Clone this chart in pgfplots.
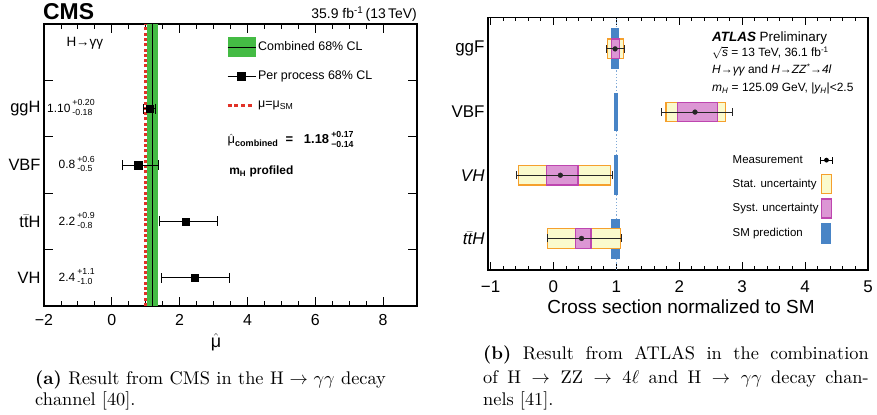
\documentclass[border=0pt]{standalone}
\usepackage{pgfplots}
\pgfplotsset{compat=1.18}
\usepackage{fontspec}
\usepackage{graphicx}
\newfontfamily\hv{Liberation Sans}
\definecolor{cmsgreen}{RGB}{68,187,68}
\definecolor{cmsred}{RGB}{225,50,40}
\definecolor{smblue}{RGB}{72,132,198}
\definecolor{statfill}{RGB}{250,250,205}
\definecolor{statline}{RGB}{245,160,45}
\definecolor{systfill}{RGB}{220,150,212}
\definecolor{systline}{RGB}{190,70,175}
\newcommand\fs[1]{\fontsize{#1}{#1}\selectfont}
\newcommand\ud[2]{\,\raisebox{1.5bp}{\fontsize{8.8}{10}\selectfont\begin{tabular}[c]{@{}l@{}}#1\\#2\end{tabular}}}
\newcommand\tbar{\ensuremath{\bar{\hbox{t}}}}
\newcommand\capt[1]{\scalebox{1.84}{\fontsize{10}{12}\selectfont #1}}

\begin{document}
\begin{tikzpicture}
\path[use as bounding box] (0,0) rectangle (877bp,415bp);

% ---------- (a) CMS ----------
\begin{axis}[
  at={(44bp,109bp)}, anchor=south west,
  scale only axis, width=373bp, height=282bp,
  xmin=-2, xmax=9, ymin=0, ymax=5,
  xtick={-2,0,2,4,6,8}, xticklabels={−2,0,2,4,6,8},
  minor x tick num=3,
  ytick={1,2,3,4}, yticklabels={},
  extra y ticks={0.5,1.5,2.5,3.5},
  extra y tick labels={VH,t\tbar H,VBF,ggH},
  extra y tick style={tick style={draw=none}},
  major tick length=9bp, minor tick length=4.5bp,
  tick style={black, line width=0.9bp},
  axis line style={line width=1.3bp},
  ticklabel style={font=\hv\fs{16}},
  xticklabel style={yshift=-5bp},
  yticklabel style={font=\hv\fs{16.5}},
  xlabel={$\hat{\hbox{μ}}$},
  xlabel style={font=\hv\fs{18}, at={(ticklabel cs:0.461)}, anchor=north, inner sep=1bp, yshift=-3bp},
  legend style={at={(0.48,0.961)}, anchor=north west, draw=none, fill=none,
    font=\hv\fs{12.5}, row sep=9bp, nodes={inner sep=2bp}},
  legend cell align=left,
  clip=false,
]
\addplot[forget plot, fill=cmsgreen, draw=none] coordinates {(1.04,0) (1.37,0) (1.37,5) (1.04,5)} -- cycle;
\addplot[forget plot, black, line width=1bp] coordinates {(1.19,0) (1.19,5)};
\addplot[forget plot, cmsred, line width=2.8bp, dash pattern=on 3bp off 2.3bp] coordinates {(1,0) (1,5)};
\addplot[forget plot, black, only marks, mark=square*, mark size=3.7bp,
  error bars/.cd, x dir=both, x explicit, error mark=|,
  error bar style={line width=1bp}, error mark options={mark size=5bp, line width=1bp}]
  coordinates {
  (1.12,3.5) += (0.18,0) -= (0.19,0)
  (0.78,2.5) += (0.61,0) -= (0.46,0)
  (2.18,1.5) += (0.93,0) -= (0.76,0)
  (2.45,0.5) += (1.03,0) -= (0.98,0)
  };

\addlegendimage{legend image code/.code={\fill[cmsgreen,draw=none] (0bp,-10bp) rectangle (28bp,10bp); \draw[black,line width=1bp] (0bp,0bp)--(28bp,0bp);}}
\addlegendentry{Combined 68\% CL}
\addlegendimage{legend image code/.code={\path[draw=none,fill=none] (0bp,-10bp) rectangle (28bp,10bp); \draw[black,line width=1bp] (0bp,0bp)--(28bp,0bp) plot[mark=square*,mark size=4bp] coordinates {(14bp,0bp)};}}
\addlegendentry{Per process 68\% CL}
\addlegendimage{legend image code/.code={\path[draw=none,fill=none] (0bp,-10bp) rectangle (28bp,10bp); \draw[cmsred,line width=2.8bp,dash pattern=on 4bp off 2.7bp] (0bp,0bp)--(24bp,0bp);}}
\addlegendentry{μ=μ\textsubscript{SM}}

\node[anchor=west, font=\hv\fs{13.5}] at (axis cs:-1.44,4.66) {H→γγ};
\node[anchor=east, font=\hv\fs{12}, inner sep=0] at (axis cs:-0.5,3.5) {1.10\ud{+0.20}{-0.18}};
\node[anchor=east, font=\hv\fs{12}, inner sep=0] at (axis cs:-0.5,2.5) {0.8\ud{+0.6}{-0.5}};
\node[anchor=east, font=\hv\fs{12}, inner sep=0] at (axis cs:-0.5,1.5) {2.2\ud{+0.9}{-0.8}};
\node[anchor=east, font=\hv\fs{12}, inner sep=0] at (axis cs:-0.5,0.5) {2.4\ud{+1.1}{-1.0}};
\node[anchor=west, font=\hv\fs{13}, inner sep=0] at (axis cs:3.41,2.94)
  {$\hat{\hbox{μ}}$\textsubscript{\textbf{combined}}\ \ \textbf{=}\ \ \ \textbf{1.18}\ud{\textbf{+0.17}}{\textbf{−0.14}}};
\node[anchor=west, font=\hv\bfseries\fs{12}, inner sep=0] at (axis cs:3.46,2.38) {m\textsubscript{H} profiled};
\end{axis}

\node[anchor=base west, font=\hv\bfseries\fs{23}, inner sep=0] at (43bp,395bp) {CMS};
\node[anchor=base east, font=\hv\fs{14}, inner sep=0] at (417bp,396bp) {35.9 fb\textsuperscript{-1}\,(13\,TeV)};

% ---------- (b) ATLAS ----------
\begin{axis}[
  at={(488bp,145bp)}, anchor=south west,
  scale only axis, width=380bp, height=252.7bp,
  xmin=-1.04, xmax=5, ymin=0, ymax=4,
  xtick={-1,0,1,2,3,4,5}, xticklabels={−1,0,1,2,3,4,5},
  minor x tick num=4,
  ytick={0.5,1.5,2.5,3.5},
  yticklabels={{\itshape t\tbar H},{\itshape VH},VBF,ggF},
  ytick style={draw=none},
  major tick length=8bp, minor tick length=4bp,
  tick style={black, line width=0.9bp},
  axis line style={line width=1.4bp},
  ticklabel style={font=\hv\fs{17}},
  xticklabel style={yshift=-7bp},
  xlabel={Cross section normalized to SM},
  xlabel style={font=\hv\fs{19}, at={(ticklabel cs:0.508)}, anchor=north, inner sep=1bp, yshift=-3bp},
  legend style={at={(0.633,0.483)}, anchor=north west, draw=none, fill=none,
    font=\hv\fs{11.5}, row sep=4bp, nodes={inner sep=1bp}},
  legend cell align=left, legend plot pos=right,
  clip=false,
]
\addplot[forget plot, smblue!70, line width=1.1bp, dash pattern=on 1.2bp off 2bp] coordinates {(1,0) (1,4)};
% SM prediction
\addplot[forget plot, fill=smblue, draw=none] coordinates {(0.92,3.18) (1.04,3.18) (1.04,3.83) (0.92,3.83)} -- cycle;
\addplot[forget plot, fill=smblue, draw=none] coordinates {(0.965,2.2) (1.03,2.2) (1.03,2.8) (0.965,2.8)} -- cycle;
\addplot[forget plot, fill=smblue, draw=none] coordinates {(0.96,1.18) (1.03,1.18) (1.03,1.82) (0.96,1.82)} -- cycle;
\addplot[forget plot, fill=smblue, draw=none] coordinates {(0.91,0.18) (1.065,0.18) (1.065,0.8) (0.91,0.8)} -- cycle;
% stat
\addplot[forget plot, fill=statfill, draw=statline, line width=1.2bp] coordinates {(0.863,3.345) (1.109,3.345) (1.109,3.655) (0.863,3.655)} -- cycle;
\addplot[forget plot, fill=statfill, draw=statline, line width=1.2bp] coordinates {(1.79,2.345) (2.738,2.345) (2.738,2.655) (1.79,2.655)} -- cycle;
\addplot[forget plot, fill=statfill, draw=statline, line width=1.2bp] coordinates {(-0.559,1.345) (0.901,1.345) (0.901,1.655) (-0.559,1.655)} -- cycle;
\addplot[forget plot, fill=statfill, draw=statline, line width=1.2bp] coordinates {(-0.089,0.345) (1.07,0.345) (1.07,0.655) (-0.089,0.655)} -- cycle;
% syst
\addplot[forget plot, fill=systfill, draw=systline, line width=1.2bp] coordinates {(0.922,3.345) (1.054,3.345) (1.054,3.655) (0.922,3.655)} -- cycle;
\addplot[forget plot, fill=systfill, draw=systline, line width=1.2bp] coordinates {(1.971,2.345) (2.604,2.345) (2.604,2.655) (1.971,2.655)} -- cycle;
\addplot[forget plot, fill=systfill, draw=systline, line width=1.2bp] coordinates {(-0.112,1.345) (0.39,1.345) (0.39,1.655) (-0.112,1.655)} -- cycle;
\addplot[forget plot, fill=systfill, draw=systline, line width=1.2bp] coordinates {(0.351,0.345) (0.597,0.345) (0.597,0.655) (0.351,0.655)} -- cycle;
% measurement
\addplot[forget plot, black!85, only marks, mark=*, mark size=2.4bp,
  error bars/.cd, x dir=both, x explicit, error mark=|,
  error bar style={line width=1.1bp}, error mark options={mark size=4bp, line width=1.1bp}]
  coordinates {
  (0.98,3.5) += (0.145,0) -= (0.133,0)
  (2.25,2.5) += (0.60,0) -= (0.53,0)
  (0.11,1.5) += (0.83,0) -= (0.69,0)
  (0.447,0.5) += (0.64,0) -= (0.547,0)
  };

\addlegendimage{legend image code/.code={\path[draw=none,fill=none] (-7bp,-10bp) rectangle (7bp,10bp); \draw[black,line width=1bp] (-6bp,0bp)--(6bp,0bp) (-6bp,-3.5bp)--(-6bp,3.5bp) (6bp,-3.5bp)--(6bp,3.5bp); \fill[black,draw=none] (0bp,0bp) circle (2.4bp);}}
\addlegendentry{Measurement}
\addlegendimage{legend image code/.code={\path[draw=none,fill=none] (-7bp,-10bp) rectangle (7bp,10bp); \draw[statline,fill=statfill,line width=1.2bp] (-5bp,-9.5bp) rectangle (5bp,9.5bp);}}
\addlegendentry{Stat. uncertainty}
\addlegendimage{legend image code/.code={\path[draw=none,fill=none] (-7bp,-10bp) rectangle (7bp,10bp); \draw[systline,fill=systfill,line width=1.2bp] (-5bp,-9.5bp) rectangle (5bp,9.5bp);}}
\addlegendentry{Syst. uncertainty}
\addlegendimage{legend image code/.code={\path[draw=none,fill=none] (-7bp,-10bp) rectangle (7bp,10bp); \fill[smblue,draw=none] (-5bp,-10.5bp) rectangle (5bp,10.5bp);}}
\addlegendentry{SM prediction}

\node[anchor=base west, font=\hv\fs{13.5}, inner sep=0] at (axis cs:2.52,3.614) {\textbf{\textit{ATLAS}} Preliminary};
\node[anchor=base west, font=\hv\fs{12}, inner sep=0] at (axis cs:2.52,3.377) {$\sqrt{\hbox{\itshape s}}$ = 13 TeV, 36.1 fb\textsuperscript{-1}};
\node[anchor=base west, font=\hv\fs{12}, inner sep=0] at (axis cs:2.52,3.103) {{\itshape H→γγ} and {\itshape H→ZZ\textsuperscript{*}→4l}};
\node[anchor=base west, font=\hv\fs{12}, inner sep=0] at (axis cs:2.52,2.823) {{\itshape m\textsubscript{H}} = 125.09 GeV, |{\itshape y\textsubscript{H}}|<2.5};
\end{axis}

% ---------- captions ----------
\node[anchor=base west, inner sep=0] at (35bp,31bp) {\capt{\makebox[191.3pt][s]{\textbf{(a)} Result from CMS in the $\mathrm{H}\rightarrow\gamma\gamma$ decay}}};
\node[anchor=base west, inner sep=0] at (35bp,9.5bp) {\capt{channel [40].}};
\node[anchor=base west, inner sep=0] at (483bp,55bp) {\capt{\makebox[210.3pt][s]{\textbf{(b)} Result from ATLAS in the combination}}};
\node[anchor=base west, inner sep=0] at (483bp,32bp) {\capt{\makebox[210.3pt][s]{of $\mathrm{H}\rightarrow\mathrm{ZZ}\rightarrow4\ell$ and $\mathrm{H}\rightarrow\gamma\gamma$ decay chan-}}};
\node[anchor=base west, inner sep=0] at (483bp,10bp) {\capt{nels [41].}};
\end{tikzpicture}
\end{document}
